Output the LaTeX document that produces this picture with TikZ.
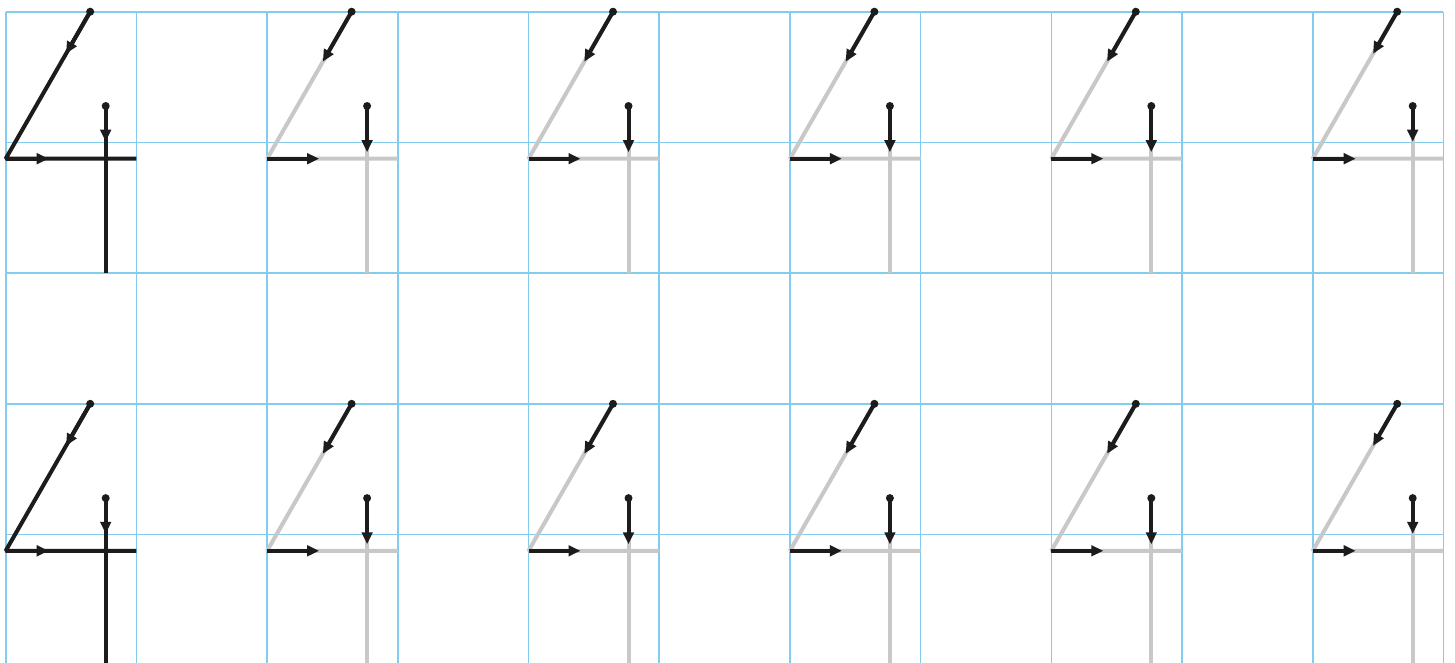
\documentclass[tikz,border=0pt]{standalone}
\usetikzlibrary{arrows.meta}
\definecolor{gridblue}{RGB}{130,204,240}
\definecolor{inkblack}{RGB}{28,28,28}
\definecolor{tracegray}{RGB}{200,200,200}
\tikzset{
  gridline/.style={draw=gridblue, line width=1.6pt},
  fullstroke/.style={line width=4pt, line cap=butt},
  inkstroke/.style={draw=inkblack, line width=4pt, line cap=butt, -{Triangle[length=12pt,width=10.5pt]}},
  startdot/.style={circle, fill=inkblack, draw=none, inner sep=0pt, minimum size=8pt},
}
\begin{document}
\begin{tikzpicture}[x=1pt,y=-1pt]
\useasboundingbox (0,0) rectangle (1455,662);
\fill[white] (0,0) rectangle (1455,662);
\clip (0,0) rectangle (1455,662);
% grid
\foreach \i in {0,...,11}
  \draw[gridline] ({5.7+130.7*\i},11.7) -- ({5.7+130.7*\i},670);
\foreach \j in {0,...,4}
  \draw[gridline] (5.7,{11.7+130.7*\j}) -- (1443.4,{11.7+130.7*\j});
% figures
\foreach \r in {0,1}{
  \foreach \k/\col/\f/\h/\v in {0/inkblack/0.286/43/130,1/tracegray/0.34/52/140.5,2/tracegray/0.34/52/140.5,3/tracegray/0.34/52/140.5,4/tracegray/0.34/52/140.5,5/tracegray/0.286/43/130}{
    \begin{scope}[shift={({5.7+261.4*\k},{11.7+392.1*\r})}]
      \coordinate (A) at (84.5,0);
      \coordinate (B) at (0,147);
      \coordinate (C) at (130.7,147);
      \coordinate (D) at (100,94.3);
      \coordinate (E) at (100,261.4);
      \coordinate (At) at ({84.5*(1-\f)},{147*\f});
      \coordinate (Bt) at (\h,147);
      \coordinate (Dt) at (100,\v);
      \draw[fullstroke, draw=\col, line join=bevel] (A) -- (B) -- (C);
      \draw[fullstroke, draw=\col] (D) -- (E);
      \draw[inkstroke] (A) -- (At);
      \draw[inkstroke] (B) -- (Bt);
      \draw[inkstroke] (D) -- (Dt);
      \node[startdot] (dotA) at (A) {};
      \node[startdot] (dotD) at (D) {};
    \end{scope}
  }
}
\end{tikzpicture}
\end{document}
